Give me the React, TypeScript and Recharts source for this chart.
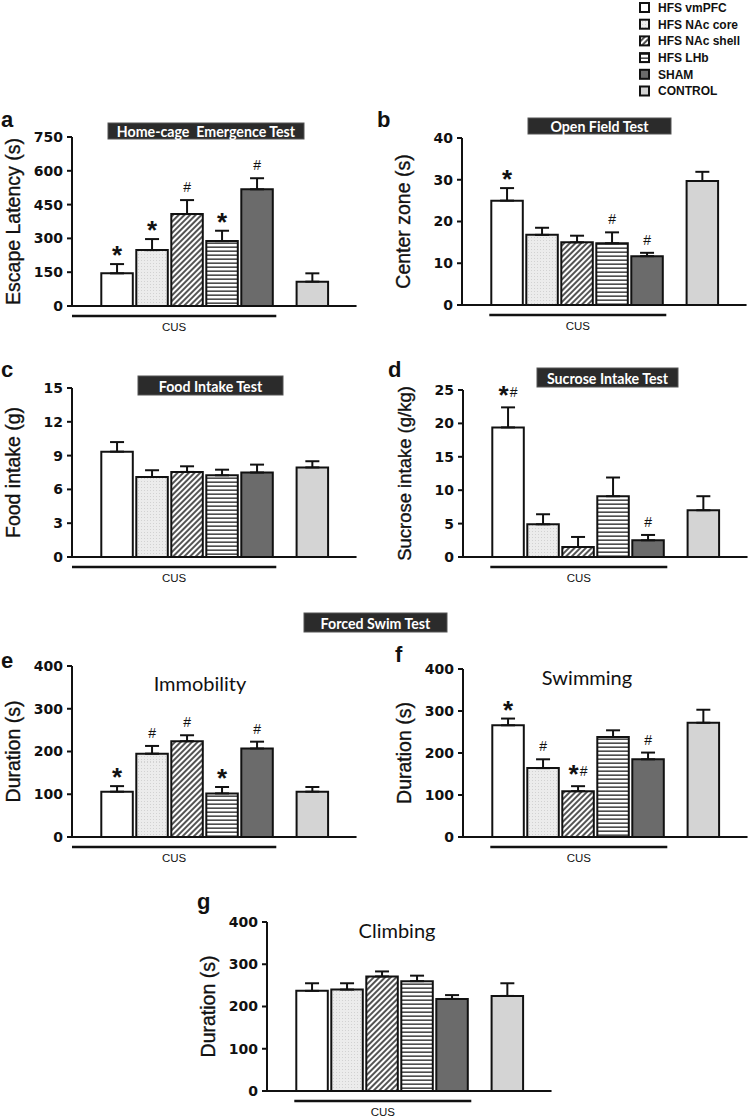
import React from 'react';
import { BarChart, Bar, XAxis, YAxis, ErrorBar, LabelList, Cell } from 'recharts';

// ---------- data ----------
const groups = ['HFS vmPFC', 'HFS NAc core', 'HFS NAc shell', 'HFS LHb', 'SHAM', 'CONTROL'];

const escapeLatency = [145, 248, 408, 288, 518, 108];
const escapeLatencyErr = [41, 49, 62, 46, 49, 37];
const escapeLatencySig = ['*', '*', '#', '*', '#', ''];

const centerZone = [25, 16.8, 15.0, 14.8, 11.7, 29.7];
const centerZoneErr = [3, 1.7, 1.6, 2.6, 0.8, 2.2];
const centerZoneSig = ['*', '', '', '#', '#', ''];

const foodIntake = [9.35, 7.1, 7.55, 7.25, 7.5, 7.95];
const foodIntakeErr = [0.85, 0.6, 0.5, 0.5, 0.7, 0.55];
const foodIntakeSig = ['', '', '', '', '', ''];

const sucroseIntake = [19.4, 4.9, 1.5, 9.1, 2.5, 7.0];
const sucroseIntakeErr = [3.0, 1.5, 1.5, 2.8, 0.8, 2.1];
const sucroseIntakeSig = ['*#', '', '', '', '#', ''];

const immobility = [106, 195, 224, 102, 207, 106];
const immobilityErr = [13, 18, 14, 15, 16, 11];
const immobilitySig = ['*', '#', '#', '*', '#', ''];

const swimming = [266, 164, 109, 238, 185, 272];
const swimmingErr = [16, 21, 12, 16, 16, 31];
const swimmingSig = ['*', '#', '*#', '', '#', ''];

const climbing = [237, 240, 271, 260, 218, 225];
const climbingErr = [18, 15, 12, 13, 9, 30];
const climbingSig = ['', '', '', '', '', ''];

const ticks750 = [0, 150, 300, 450, 600, 750];
const ticks40 = [0, 10, 20, 30, 40];
const ticks15 = [0, 3, 6, 9, 12, 15];
const ticks25 = [0, 5, 10, 15, 20, 25];
const ticks400 = [0, 100, 200, 300, 400];

// ---------- styles / layout ----------
const fills = ['#ffffff', 'url(#pCore)', 'url(#pShell)', 'url(#pLhb)', '#6b6b6b', '#d4d4d4'];
const DOMAIN_MIN = -1.28;
const DOMAIN_MAX = 6.85;
const BAND = 35;
const CONTROL_POS = 5.58;
const PLOT_W = (DOMAIN_MAX - DOMAIN_MIN) * BAND;
const Y_AXIS_W = 72;
const M_TOP = 12;
const M_RIGHT = 4;
const X_AXIS_H = 36;
const SANS = 'Liberation Sans, Arial, sans-serif';

const CusTick = (props: any) => {
  const { x, y, fromAxis } = props;
  const x1 = fromAxis ? x - (2 - DOMAIN_MIN) * BAND : x - 2.5 * BAND;
  const x2 = x + 2.5 * BAND + 2;
  return (
    <g>
      <line x1={x1} x2={x2} y1={y + 10} y2={y + 10} stroke="#111" strokeWidth={2.5} />
      <text x={(x1 + x2) / 2} y={y + 25} textAnchor="middle" fontSize={11.5} fontFamily={SANS} fill="#111">CUS</text>
    </g>
  );
};

const makeSig = (rows: any[]) => (lp: any) => {
  const idx = Number(lp.value);
  const row = rows[idx];
  if (!row || !row.sig) return null;
  const vb = lp.viewBox || lp;
  const x = vb.x, y = vb.y, w = vb.width, h = vb.height;
  const cx = x + w / 2;
  const top = y - row.errUp * (h / row.value);
  if (row.sig === '*') {
    return <text x={cx} y={top} textAnchor="middle" fontSize={26} fontWeight="bold" fontFamily={SANS} fill="#111">*</text>;
  }
  if (row.sig === '#') {
    return <text x={cx} y={top - 8} textAnchor="middle" fontSize={14} fontFamily={SANS} fill="#111">#</text>;
  }
  return (
    <text x={cx} y={top - 3} textAnchor="middle" fontFamily={SANS} fill="#111">
      <tspan fontSize={26} fontWeight="bold">*</tspan>
      <tspan fontSize={14} dx={1} dy={-7}>#</tspan>
    </text>
  );
};

type PanelProps = {
  axisX: number; yTop: number; yZero: number; max: number; ticks: number[];
  yLabel: string; values: number[]; errs: number[]; sigs: string[]; cusFromAxis: boolean; yLabelSize?: number;
};

function Panel(p: PanelProps) {
  const rows = p.values.map((v, i) => ({
    name: groups[i],
    pos: i < 5 ? i : CONTROL_POS,
    value: v,
    err: [0, p.errs[i]],
    errUp: p.errs[i],
    sig: p.sigs[i],
    key: String(i),
  }));
  const plotH = p.yZero - p.yTop;
  const width = Y_AXIS_W + PLOT_W + M_RIGHT;
  const height = M_TOP + plotH + X_AXIS_H;
  return (
    <div style={{ position: 'absolute', left: p.axisX - Y_AXIS_W, top: p.yTop - M_TOP }}>
      <BarChart width={width} height={height} data={rows} margin={{ top: M_TOP, right: M_RIGHT, left: 0, bottom: 0 }} barCategoryGap={0}>
        <XAxis
          type="number" dataKey="pos" domain={[DOMAIN_MIN, DOMAIN_MAX]} allowDataOverflow
          ticks={[2]} interval={0} tickLine={false} tickSize={0} tickMargin={0} height={X_AXIS_H}
          axisLine={{ stroke: '#111', strokeWidth: 2 }}
          tick={(tp: any) => <CusTick {...tp} fromAxis={p.cusFromAxis} />}
        />
        <YAxis
          type="number" domain={[0, p.max]} ticks={p.ticks} interval={0} allowDataOverflow width={Y_AXIS_W}
          axisLine={{ stroke: '#111', strokeWidth: 2 }} tickLine={{ stroke: '#111', strokeWidth: 2 }}
          tickSize={5} tickMargin={4}
          tick={{ fill: '#111', fontSize: 14, fontWeight: 'bold', fontFamily: 'DejaVu Sans' }}
          label={{
            value: p.yLabel,
            content: (lp: any) => {
              const vb = lp.viewBox;
              const lx = vb.x + vb.width - 52;
              const ly = vb.y + vb.height / 2;
              return (
                <text x={lx} y={ly} transform={`rotate(-90, ${lx}, ${ly})`} textAnchor="middle" fontSize={p.yLabelSize || 19.5} fontFamily={SANS} fill="#111" stroke="#111" strokeWidth={0.35}>
                  {p.yLabel}
                </text>
              );
            },
          }}
        />
        <Bar dataKey="value" barSize={BAND} stroke="#111" strokeWidth={2} isAnimationActive={false}>
          {rows.map((r, i) => <Cell key={r.key} fill={fills[i]} />)}
          <ErrorBar dataKey="err" width={7} strokeWidth={2} stroke="#111" direction="y" />
          <LabelList dataKey="key" content={makeSig(rows)} />
        </Bar>
      </BarChart>
    </div>
  );
}

const TitleBox = ({ x, y, w, h, text }: any) => (
  <g>
    <rect x={x} y={y} width={w} height={h} fill="#2b2b2b" stroke="#555" strokeWidth={1} />
    <text x={x + w / 2} y={y + h / 2 + 0.5} textAnchor="middle" dominantBaseline="central" fontFamily="Lato" fontWeight="bold" fontSize={14.2} fill="#fff" style={{ whiteSpace: 'pre' }}>{text}</text>
  </g>
);

const letters = [
  { t: 'a', x: 1, y: 127 }, { t: 'b', x: 377, y: 127 }, { t: 'c', x: 1, y: 377 }, { t: 'd', x: 388, y: 377 },
  { t: 'e', x: 1, y: 668 }, { t: 'f', x: 395, y: 662 }, { t: 'g', x: 197, y: 909 },
];

export default function App() {
  return (
    <div style={{ position: 'absolute', left: 0, top: 0, width: 750, height: 1120, overflow: 'hidden', background: '#fff' }}>
      <Panel axisX={72} yTop={137} yZero={306} max={750} ticks={ticks750} yLabel="Escape Latency (s)" values={escapeLatency} errs={escapeLatencyErr} sigs={escapeLatencySig} cusFromAxis />
      <Panel axisX={462} yTop={138} yZero={305} max={40} ticks={ticks40} yLabel="Center zone (s)" values={centerZone} errs={centerZoneErr} sigs={centerZoneSig} cusFromAxis={false} />
      <Panel axisX={72} yTop={388} yZero={557} max={15} ticks={ticks15} yLabel="Food intake (g)" values={foodIntake} errs={foodIntakeErr} sigs={foodIntakeSig} cusFromAxis />
      <Panel axisX={463} yTop={390} yZero={557} max={25} ticks={ticks25} yLabel="Sucrose intake (g/kg)" yLabelSize={18.5} values={sucroseIntake} errs={sucroseIntakeErr} sigs={sucroseIntakeSig} cusFromAxis={false} />
      <Panel axisX={72} yTop={666} yZero={837} max={400} ticks={ticks400} yLabel="Duration (s)" values={immobility} errs={immobilityErr} sigs={immobilitySig} cusFromAxis />
      <Panel axisX={463} yTop={669} yZero={837} max={400} ticks={ticks400} yLabel="Duration (s)" values={swimming} errs={swimmingErr} sigs={swimmingSig} cusFromAxis={false} />
      <Panel axisX={267} yTop={922} yZero={1091} max={400} ticks={ticks400} yLabel="Duration (s)" values={climbing} errs={climbingErr} sigs={climbingSig} cusFromAxis={false} />

      <svg width={750} height={1120} style={{ position: 'absolute', left: 0, top: 0, pointerEvents: 'none' }}>
        <defs>
          <pattern id="pCore" patternUnits="userSpaceOnUse" width={3} height={3}>
            <rect width={3} height={3} fill="#ececec" />
            <rect width={1} height={1} fill="#d2d2d2" />
          </pattern>
          <pattern id="pShell" patternUnits="userSpaceOnUse" width={4} height={4} patternTransform="rotate(45)">
            <rect width={4} height={4} fill="#ffffff" />
            <line x1={2} y1={0} x2={2} y2={4} stroke="#1a1a1a" strokeWidth={1.5} />
          </pattern>
          <pattern id="pLhb" patternUnits="userSpaceOnUse" width={4} height={4}>
            <rect width={4} height={4} fill="#ffffff" />
            <rect y={1.5} width={4} height={1.3} fill="#222" />
          </pattern>
        </defs>

        {groups.map((g, i) => {
          const cy = 7.5 + i * 16.7;
          return (
            <g key={g}>
              <rect x={640} y={cy - 4.5} width={9} height={9} fill={fills[i]} stroke="#111" strokeWidth={2} />
              <text x={658} y={cy + 4.3} fontSize={12} fontWeight="bold" fontFamily={SANS} fill="#111">{g}</text>
            </g>
          );
        })}

        {letters.map((l) => (
          <text key={l.t} x={l.x} y={l.y} fontSize={22} fontWeight="bold" fontFamily={SANS} fill="#111">{l.t}</text>
        ))}

        <TitleBox x={108} y={123} w={196} h={16} text="Home-cage  Emergence Test" />
        <TitleBox x={528} y={118} w={143} h={16} text="Open Field Test" />
        <TitleBox x={138} y={376} w={145} h={19} text="Food Intake Test" />
        <TitleBox x={537} y={368} w={141} h={19} text="Sucrose Intake Test" />
        <TitleBox x={304} y={613} w={143} h={19} text="Forced Swim Test" />

        <text x={200} y={683} textAnchor="middle" dominantBaseline="central" fontFamily="Lato" fontSize={20} fill="#111">Immobility</text>
        <text x={587} y={677} textAnchor="middle" dominantBaseline="central" fontFamily="Lato" fontSize={20} fill="#111">Swimming</text>
        <text x={397} y={930} textAnchor="middle" dominantBaseline="central" fontFamily="Lato" fontSize={20} fill="#111">Climbing</text>
      </svg>
    </div>
  );
}
